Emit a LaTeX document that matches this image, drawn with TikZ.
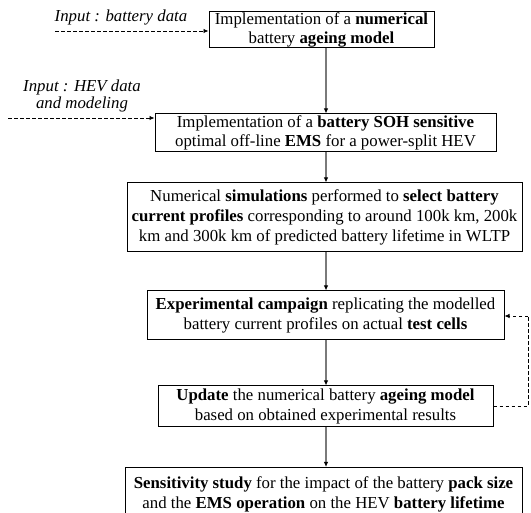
\documentclass[tikz,border=0pt]{standalone}
\usepackage{fontspec}
\setmainfont{Liberation Serif}
\usetikzlibrary{arrows.meta}
\definecolor{flowgray}{HTML}{7A7A7A}
\begin{document}
\begin{tikzpicture}[x=1pt,y=-1pt,
  box/.style={draw=black, line width=1pt, rectangle, align=center, inner sep=0pt},
  tight/.style={font=\fontsize{16.8}{18.5}\selectfont},
  loose/.style={font=\fontsize{16.8}{20}\selectfont},
  flow/.style={draw=flowgray, line width=1.3pt, -{Latex[color=black,length=5pt,width=4.5pt]}},
  feed/.style={draw=black, line width=0.8pt, dash pattern=on 3.5pt off 2.5pt, -{Latex[length=5pt,width=4.5pt]}},
  feedline/.style={draw=black, line width=0.8pt, dash pattern=on 3.5pt off 2.5pt},
  inlabel/.style={font=\fontsize{16.8}{17}\selectfont\itshape, align=center, inner sep=0pt}
]
\clip (0,0) rectangle (531,513);
\fill[white] (0,0) rectangle (531,513);

\node[box, tight, minimum width=225pt, minimum height=36pt] (b1) at (321.5,30)
  {Implementation of a \textbf{numerical}\\battery \textbf{ageing model}};
\node[box, tight, minimum width=341pt, minimum height=38pt] (b2) at (325.5,133)
  {Implementation of a \textbf{battery SOH sensitive}\\optimal off-line \textbf{EMS} for a power-split HEV};
\node[box, loose, minimum width=395pt, minimum height=69pt] (b3) at (324.5,217.5)
  {Numerical \textbf{simulations} performed to \textbf{select battery}\\\textbf{current profiles} corresponding to around 100k km, 200k\\km and 300k km of predicted battery lifetime in WLTP};
\node[box, loose, minimum width=357pt, minimum height=49pt] (b4) at (325.5,315.5)
  {\textbf{Experimental campaign} replicating the modelled\\battery current profiles on actual \textbf{test cells}};
\node[box, loose, minimum width=335pt, minimum height=41pt] (b5) at (325.5,406.5)
  {\textbf{Update} the numerical battery \textbf{ageing model}\\based on obtained experimental results};
\node[box, loose, font=\fontsize{16.8}{19.5}\selectfont, minimum width=397pt, minimum height=54pt, anchor=north] (b6) at (323.5,467)
  {\textbf{Sensitivity study} for the impact of the battery \textbf{pack size}\\and the \textbf{EMS operation} on the HEV \textbf{battery lifetime}};

\coordinate (ax) at (326,0);
\draw[flow] (b1.south -| ax) -- (b2.north -| ax);
\draw[flow] (b2.south -| ax) -- (b3.north -| ax);
\draw[flow] (b3.south -| ax) -- (b4.north -| ax);
\draw[flow] (b4.south -| ax) -- (b5.north -| ax);
\draw[flow] (b5.south -| ax) -- (b6.north -| ax);

\node[inlabel] (in1) at (121,17) {Input : battery data};
\coordinate (s1) at (55,31);
\draw[feed] (s1) -- (s1 -| b1.west);

\node[inlabel] (in2) at (82,96) {Input : HEV data\\and modeling};
\coordinate (s2) at (8,118);
\draw[feed] (s2) -- (s2 -| b2.west);

\coordinate (fr) at (528,0);
\coordinate (fy) at (0,316);
\draw[feedline] (b5.east) -- (b5.east -| fr) -- (fr |- fy);
\draw[feed] (fr |- fy) -- (b4.east |- fy);
\end{tikzpicture}
\end{document}
